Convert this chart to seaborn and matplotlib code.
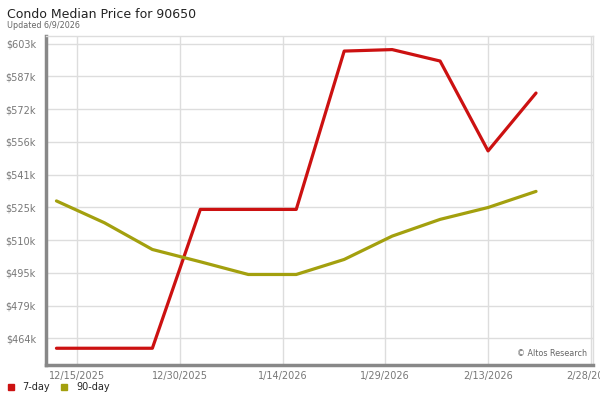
import pandas as pd
import matplotlib
matplotlib.use("Agg")
import matplotlib.pyplot as plt
from matplotlib.lines import Line2D
import seaborn as sns

# Weekly data points
dates = pd.date_range("2025-12-12", periods=11, freq="7D")
day7 = [459.3, 459.3, 459.3, 524.8, 524.8, 524.8, 599.5, 600.2, 594.8, 552.4, 579.7]
day90 = [528.8, 518.5, 505.9, 500.1, 494.1, 494.1, 501.2, 512.2, 520.1, 525.7, 533.3]

# Axis ticks
y_ticks = [464 + i * (603 - 464) / 9 for i in range(10)]
y_labels = ["$464k", "$479k", "$495k", "$510k", "$525k", "$541k", "$556k", "$572k", "$587k", "$603k"]
x_ticks = pd.date_range("2025-12-15", periods=6, freq="15D")
x_labels = ["12/15/2025", "12/30/2025", "1/14/2026", "1/29/2026", "2/13/2026", "2/28/2026"]

colors = {"7-day": "#cc1111", "90-day": "#a3a00e"}

df = pd.concat([
    pd.DataFrame({"date": dates, "price": day7, "series": "7-day"}),
    pd.DataFrame({"date": dates, "price": day90, "series": "90-day"}),
])

sns.set_style("white")
plt.rcParams["font.family"] = ["DejaVu Sans"]

fig = plt.figure(figsize=(6, 4), dpi=100)
ax = fig.add_axes([0.076, 0.0875, 0.913, 0.8235])

sns.lineplot(data=df, x="date", y="price", hue="series", palette=colors,
             linewidth=2.3, legend=False, ax=ax, zorder=3)

ax.set_xlim(pd.Timestamp("2025-12-10 10:00"), pd.Timestamp("2026-02-28 09:00"))
ax.set_ylim(451.4, 606.8)

ax.set_xticks(x_ticks)
ax.set_xticklabels(x_labels)
ax.set_yticks(y_ticks)
ax.set_yticklabels(y_labels)
ax.tick_params(axis="both", length=0, labelsize=7, colors="#777777")
ax.tick_params(axis="y", pad=7)
ax.tick_params(axis="x", pad=4)

ax.grid(True, color="#dddddd", linewidth=1)
ax.set_axisbelow(True)
ax.set_xlabel("")
ax.set_ylabel("")

for side in ["top", "right"]:
    ax.spines[side].set_color("#dddddd")
    ax.spines[side].set_linewidth(1)
for side in ["left", "bottom"]:
    ax.spines[side].set_color("#888888")
    ax.spines[side].set_linewidth(2.5)

fig.text(0.012, 0.965, "Condo Median Price for 90650", fontsize=9, color="#222222", va="center")
fig.text(0.012, 0.937, "Updated 6/9/2026", fontsize=5.8, color="#666666", va="center")
ax.text(0.988, 0.035, "\u00a9 Altos Research", transform=ax.transAxes, fontsize=5.8,
        color="#666666", ha="right", va="center")

handles = [Line2D([], [], marker="s", linestyle="", color=c, markersize=5) for c in colors.values()]
fig.legend(handles, list(colors.keys()), loc="lower left", bbox_to_anchor=(-0.005, -0.002),
           ncol=2, frameon=False, fontsize=7, handletextpad=0.7, columnspacing=1.0,
           handlelength=1.0)

fig.savefig("out.png", dpi=100)
